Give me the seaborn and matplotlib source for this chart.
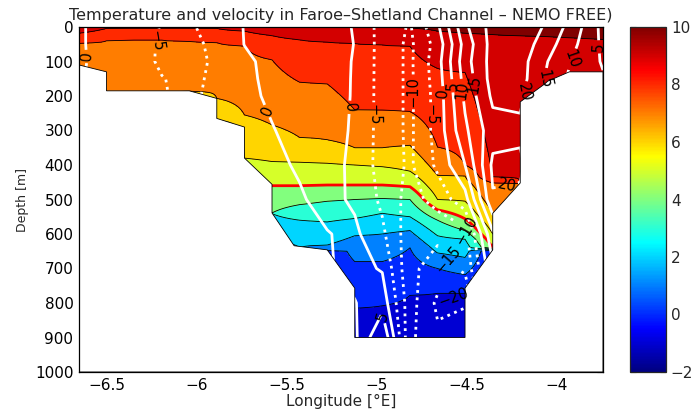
import numpy as np
import matplotlib
matplotlib.use("Agg")
import matplotlib.pyplot as plt
import seaborn as sns
from matplotlib.colors import Normalize, LinearSegmentedColormap
from matplotlib.cm import ScalarMappable

sns.set_style("white")
plt.rcParams["font.family"] = ["DejaVu Sans"]
plt.rcParams["axes.unicode_minus"] = True

# ---------------- data ----------------
# longitude of the model columns (deg E)
lon = [-6.656, -6.503, -6.350, -6.196, -6.043, -5.890, -5.736, -5.583, -5.430, -5.276,
       -5.123, -4.970, -4.816, -4.663, -4.510, -4.356, -4.203, -4.050, -3.896, -3.743]

# depth (m) of each isotherm in every column (negative = not reached, deeper than bottom = hidden)
iso_levels = [10, 9, 8, 7, 6, 5, 4, 3, 2, 1, 0]
iso_10 = [-5, -5, -5, -5, -5, -5, -5, -5, -5, -5, -5, 1, 3, 12, 18, 22, 25, 28, 32, 36]
iso_9 = [18, 4, 3, 3, 3, 4, 12, 25, 37, 44, 48, 52, 56, 120, 132, 435, 450, 200, 170, 170]
iso_8 = [47, 40, 38, 38, 42, 45, 55, 95, 160, 165, 240, 241, 245, 348, 400, 452, 454, 210, 180, 180]
iso_7 = [150, 192, 192, 192, 186, 207, 255, 284, 320, 327, 350, 350, 343, 430, 432, 540, 545, 220, 190, 190]
iso_6 = [160, 200, 200, 200, 200, 270, 380, 390, 392, 395, 400, 405, 418, 500, 505, 600, 560, 230, 200, 200]
iso_5 = [170, 210, 210, 210, 210, 280, 465, 460, 460, 458, 458, 458, 463, 530, 556, 638, 570, 240, 210, 210]
iso_4 = [180, 220, 220, 220, 220, 290, 545, 539, 515, 505, 500, 497, 500, 560, 590, 641, 580, 250, 220, 220]
iso_3 = [190, 230, 230, 230, 230, 300, 550, 541, 560, 565, 555, 540, 550, 605, 615, 643, 590, 260, 230, 230]
iso_2 = [200, 240, 240, 240, 240, 310, 620, 622, 640, 632, 605, 600, 590, 655, 668, 645, 600, 270, 240, 240]
iso_1 = [210, 250, 250, 250, 250, 320, 640, 642, 645, 648, 680, 680, 640, 700, 718, 647, 610, 280, 250, 250]
iso_0 = [220, 260, 260, 260, 260, 330, 660, 662, 648, 650, 815, 808, 778, 772, 772, 650, 620, 290, 260, 260]

# along-channel velocity (cm/s) at model depths
v_depth = [0, 50, 100, 150, 200, 300, 400, 500, 600, 700, 800, 900]
v_0 = [0.8, -2.5, -4, -5.1, -5.5, -3.5, 0.2, 2, 2.5, 2, -0.3, -7, -10.5, -1, 14, 22, 24, 19, 12, 3.5]
v_50 = [0.8, -2.5, -4, -5.3, -5.8, -4.3, 0.1, 1.5, 2.5, 2, -0.1, -7, -11, -3, 12, 22, 23, 17, 10.5, 4]
v_100 = [0.8, -2, -3.8, -5.4, -6, -4.5, -1, 1.5, 2.5, 2, -0.3, -7, -11, -2, 13, 22, 22, 15, 9, 4.5]
v_150 = [0.5, -2, -4, -4.9, -5.6, -4.5, -1.2, 1.3, 2.5, 2.2, -0.4, -7, -11, -2.5, 12, 22, 22, 14, 8, 5.5]
v_200 = [0.5, -2, -4.2, -4.9, -5.3, -4.6, -1.5, 1, 2.5, 2.5, -0.5, -7, -11, -3, 11, 21, 21, 13, 8, 5.5]
v_300 = [0.5, -2, -4, -4.9, -5.3, -4.5, -2, -0.3, 2, 2.5, -0.8, -7, -11, -3, 9, 18, 19, 13, 8, 5.5]
v_400 = [0.5, -2, -4, -4.9, -5.3, -4.5, -2, -1, 0.5, 2, -1.2, -7, -10.8, -4, 5, 21, 21, 13, 8, 5.5]
v_500 = [0.5, -2, -4, -4.9, -5.3, -4.5, -2, -2, -0.5, 1.5, -0.8, -6, -12, -8, -2, 19.5, 19, 13, 8, 5.5]
v_600 = [0.5, -2, -4, -4.9, -5.3, -4.5, -2, -2, -1.5, -0.2, 1, -4, -13, -14, -12, 9, 9, 8, 6, 5.5]
v_700 = [0.5, -2, -4, -4.9, -5.3, -4.5, -2, -2, -1.5, -0.5, 1.5, -0.4, -14, -17, -14, 4, 4, 4, 4, 4]
v_800 = [0.5, -2, -4, -4.9, -5.3, -4.5, -2, -2, -1.5, -0.5, -0.2, 3, -13, -21, -20.5, 0.5, 4, 4, 4, 4]
v_900 = [0.5, -2, -4, -4.9, -5.3, -4.5, -2, -2, -1.5, -1, -1, 10, -14, -19, -17, 0.5, 4, 4, 4, 4]

# bathymetry outline of the section
bottom_lon = [-6.656, -6.503, -6.503, -6.043, -5.890, -5.890, -5.736, -5.736, -5.583, -5.583,
              -5.460, -5.276, -5.123, -5.123, -4.510, -4.510, -4.356, -4.356, -4.203, -4.203,
              -4.067, -4.050, -3.930, -3.743]
bottom_depth = [110, 130, 185, 185, 207, 265, 290, 380, 456, 539,
                634, 646, 757, 900, 900, 757, 646, 540, 452, 217,
                165, 157, 130, 130]

xtick_vals = [-6.5, -6, -5.5, -5, -4.5, -4]
xtick_text = ["\u22126.5", "\u22126", "\u22125.5", "\u22125", "\u22124.5", "\u22124"]
ytick_vals = [0, 100, 200, 300, 400, 500, 600, 700, 800, 900, 1000]
cbar_ticks = [-2, 0, 2, 4, 6, 8, 10]

# ---------------- fields ----------------
lon_a = np.array(lon)
iso = np.array([iso_10, iso_9, iso_8, iso_7, iso_6, iso_5, iso_4, iso_3, iso_2, iso_1, iso_0], float)
z = np.arange(0, 1000.1, 2.0)
T = np.empty((z.size, lon_a.size))
for j in range(lon_a.size):
    xp = np.concatenate(([-100.0], iso[:, j], [1100.0]))
    fp = np.concatenate(([11.0], np.array(iso_levels, float), [-1.0]))
    T[:, j] = np.interp(z, xp, fp)

V = np.array([v_0, v_50, v_100, v_150, v_200, v_300, v_400, v_500, v_600, v_700, v_800, v_900])

# ---------------- plot ----------------
W, H = 693, 409
fig = plt.figure(figsize=(W / 100, H / 100), dpi=100)
ax = fig.add_axes([79 / W, 1 - 372 / H, 524 / W, 345 / H])

# MATLAB-style jet
cmap = LinearSegmentedColormap("mjet", {
    "red": [(0, 0, 0), (0.375, 0, 0), (0.625, 1, 1), (0.875, 1, 1), (1, 0.5, 0.5)],
    "green": [(0, 0, 0), (0.125, 0, 0), (0.375, 1, 1), (0.625, 1, 1), (0.875, 0, 0), (1, 0, 0)],
    "blue": [(0, 0.5, 0.5), (0.125, 1, 1), (0.375, 1, 1), (0.625, 0, 0), (1, 0, 0)],
}, N=256)
norm = Normalize(-2, 10)

t_levels = np.arange(-1, 12)
band_colors = [cmap(norm(min(l, 10))) for l in t_levels[:-1]]
ax.contourf(lon_a, z, T, levels=t_levels, colors=band_colors, zorder=1)
ax.contour(lon_a, z, T, levels=np.arange(-1, 11), colors="k", linewidths=0.6, zorder=1.5)
ax.contour(lon_a, z, T, levels=[5], colors="red", linewidths=2.0, zorder=1.6)

cs_pos = ax.contour(lon_a, v_depth, V, levels=[0, 5, 10, 15, 20], colors="white",
                    linewidths=2.0, linestyles="solid", zorder=2)
cs_neg = ax.contour(lon_a, v_depth, V, levels=[-20, -15, -10, -5], colors="white",
                    linewidths=2.0, linestyles=":", zorder=2)

ax.fill(bottom_lon + [lon[-1], lon[0]], bottom_depth + [1000, 1000],
        facecolor="white", edgecolor="k", linewidth=0.6, zorder=3)

fmt = lambda v: f"{v:.0f}".replace("-", "\u2212")
pos_label_at = [(-6.60, 85), (-5.62, 246), (-5.18, 232), (-4.61, 190), (-4.57, 170),
                (-4.51, 182), (-4.44, 165), (-4.29, 429), (-4.167, 191), (-4.095, 148),
                (-3.945, 87), (-3.778, 58), (-4.965, 840)]
neg_label_at = [(-6.206, 43), (-5.039, 255), (-4.80, 188), (-4.70, 255), (-4.539, 597),
                (-4.556, 655), (-4.578, 797)]
for cs, spots in ((cs_pos, pos_label_at), (cs_neg, neg_label_at)):
    txts = ax.clabel(cs, fmt=fmt, fontsize=10.5, colors="k", inline=True,
                     inline_spacing=2, manual=spots)
    for t in txts:
        t.set_zorder(4)

ax.set_xlim(lon[0], lon[-1])
ax.set_ylim(1000, 0)
ax.set_xticks(xtick_vals)
ax.set_xticklabels(xtick_text)
ax.set_yticks(ytick_vals)
ax.tick_params(direction="in", top=True, right=True, length=4, width=0.8,
               labelsize=11, pad=4, colors="k")
for s in ax.spines.values():
    s.set_linewidth(0.9)
    s.set_color("k")
    s.set_zorder(5)

ax.set_title("Temperature and velocity in Faroe\u2013Shetland Channel \u2013 NEMO FREE)",
             fontsize=11.5, pad=5)
ax.set_xlabel("Longitude [\u00b0E]", fontsize=11, labelpad=1)
ax.set_ylabel("Depth [m]", fontsize=9, labelpad=4)

cax = fig.add_axes([630 / W, 1 - 372 / H, 36 / W, 345 / H])
cb = fig.colorbar(ScalarMappable(norm=norm, cmap=cmap), cax=cax, ticks=cbar_ticks)
cb.ax.set_yticklabels([fmt(t) for t in cbar_ticks])
cb.ax.tick_params(direction="in", left=True, right=True, length=4, width=0.8, labelsize=11)
cb.outline.set_linewidth(0.9)

fig.savefig("out.png", dpi=100)
